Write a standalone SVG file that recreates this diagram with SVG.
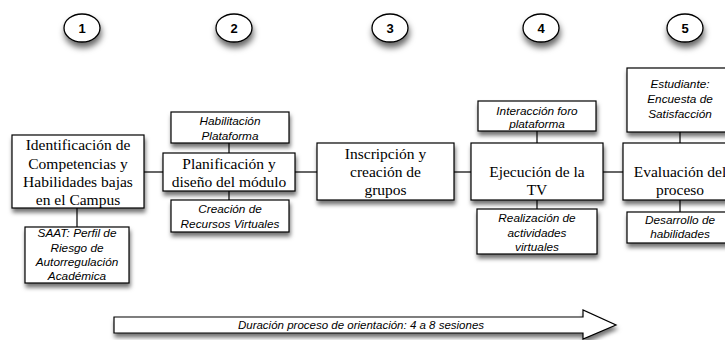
<svg xmlns="http://www.w3.org/2000/svg" width="725" height="340" viewBox="0 0 725 340">
<defs>
<filter id="sh" x="-20%" y="-20%" width="140%" height="160%">
<feDropShadow dx="1" dy="4" stdDeviation="2" flood-color="#000" flood-opacity="0.55"/>
</filter>
<filter id="shc" x="-40%" y="-40%" width="180%" height="200%">
<feDropShadow dx="1" dy="5" stdDeviation="3" flood-color="#000" flood-opacity="0.6"/>
</filter>
<style>
.box{fill:#fff;stroke:#000;stroke-width:1.2;filter:url(#sh)}
.circ{fill:#fff;stroke:#000;stroke-width:1.3;filter:url(#shc)}
.main{font-family:"Liberation Serif","Times New Roman",serif;font-size:15.5px;fill:#000;text-anchor:middle}
.sub{font-family:"Liberation Sans",Arial,sans-serif;font-size:11.8px;font-style:italic;fill:#000;text-anchor:middle}
.num{font-family:"Liberation Sans",Arial,sans-serif;font-size:13px;font-weight:bold;fill:#000;text-anchor:middle}
.con{stroke:#000;stroke-width:1.2;fill:none}
</style>
</defs>
<rect width="725" height="340" fill="#fff"/>

<g id="connectors">
<line class="con" x1="144" y1="172" x2="163" y2="172"/>
<line class="con" x1="295" y1="172" x2="317" y2="172"/>
<line class="con" x1="454" y1="172" x2="471" y2="172"/>
<line class="con" x1="603" y1="172" x2="623" y2="172"/>
<line class="con" x1="77" y1="208" x2="77" y2="227"/>
<line class="con" x1="229" y1="143" x2="229" y2="153"/>
<line class="con" x1="229" y1="191" x2="229" y2="200"/>
<line class="con" x1="537" y1="131" x2="537" y2="143"/>
<line class="con" x1="537" y1="200" x2="537" y2="209"/>
<line class="con" x1="680" y1="132" x2="680" y2="143"/>
<line class="con" x1="680" y1="200" x2="680" y2="212"/>
</g>

<g id="step1"><ellipse class="circ" cx="82" cy="28" rx="18" ry="14"/><text class="num" x="82" y="33">1</text></g>
<g id="step2"><ellipse class="circ" cx="234" cy="28" rx="18" ry="14"/><text class="num" x="234" y="33">2</text></g>
<g id="step3"><ellipse class="circ" cx="390" cy="28" rx="18" ry="14"/><text class="num" x="390" y="33">3</text></g>
<g id="step4"><ellipse class="circ" cx="541" cy="28" rx="18" ry="14"/><text class="num" x="541" y="33">4</text></g>
<g id="step5"><ellipse class="circ" cx="685" cy="28" rx="18" ry="14"/><text class="num" x="685" y="33">5</text></g>

<g id="identificacion">
<rect class="box" x="12" y="135" width="132" height="73"/>
<text class="main" x="78" y="150">Identificación de</text>
<text class="main" x="78" y="168.5">Competencias y</text>
<text class="main" x="78" y="187">Habilidades bajas</text>
<text class="main" x="78" y="205">en el Campus</text>
</g>

<g id="saat">
<rect class="box" x="25" y="227" width="104" height="56"/>
<text class="sub" x="77" y="237">SAAT: Perfil de</text>
<text class="sub" x="77" y="251.5">Riesgo de</text>
<text class="sub" x="77" y="266">Autorregulación</text>
<text class="sub" x="77" y="280">Académica</text>
</g>

<g id="habilitacion">
<rect class="box" x="171" y="112" width="118" height="31"/>
<text class="sub" x="230" y="125">Habilitación</text>
<text class="sub" x="230" y="140">Plataforma</text>
</g>

<g id="planificacion">
<rect class="box" x="163" y="153" width="132" height="38"/>
<text class="main" x="229" y="168.5">Planificación y</text>
<text class="main" x="229" y="187">diseño del módulo</text>
</g>

<g id="creacion">
<rect class="box" x="171" y="200" width="118" height="32"/>
<text class="sub" x="230" y="213">Creación de</text>
<text class="sub" x="230" y="228">Recursos Virtuales</text>
</g>

<g id="inscripcion">
<rect class="box" x="317" y="143" width="137" height="57"/>
<text class="main" x="385.5" y="159">Inscripción y</text>
<text class="main" x="385.5" y="177">creación de</text>
<text class="main" x="385.5" y="195">grupos</text>
</g>

<g id="interaccion">
<rect class="box" x="478" y="101" width="118" height="30"/>
<text class="sub" x="537" y="115">Interacción foro</text>
<text class="sub" x="537" y="128">plataforma</text>
</g>

<g id="ejecucion">
<rect class="box" x="471" y="143" width="132" height="57"/>
<text class="main" x="537" y="177">Ejecución de la</text>
<text class="main" x="537" y="195">TV</text>
</g>

<g id="realizacion">
<rect class="box" x="477" y="209" width="120" height="45"/>
<text class="sub" x="537" y="222">Realización de</text>
<text class="sub" x="537" y="237">actividades</text>
<text class="sub" x="537" y="251">virtuales</text>
</g>

<g id="estudiante">
<rect class="box" x="627" y="68" width="110" height="64"/>
<text class="sub" x="680" y="88">Estudiante:</text>
<text class="sub" x="680" y="103">Encuesta de</text>
<text class="sub" x="680" y="118">Satisfacción</text>
</g>

<g id="evaluacion">
<rect class="box" x="623" y="143" width="115" height="57"/>
<text class="main" x="680" y="177">Evaluación del</text>
<text class="main" x="680" y="195">proceso</text>
</g>

<g id="desarrollo">
<rect class="box" x="627" y="212" width="110" height="31"/>
<text class="sub" x="680" y="224">Desarrollo de</text>
<text class="sub" x="680" y="238">habilidades</text>
</g>

<g id="duracion">
<polygon class="box" points="114,317 583,317 583,310 616,325 583,339 583,333 114,333"/>
<text class="sub" x="361" y="329" style="font-size:11.5px">Duración proceso de orientación: 4 a 8 sesiones</text>
</g>
</svg>
